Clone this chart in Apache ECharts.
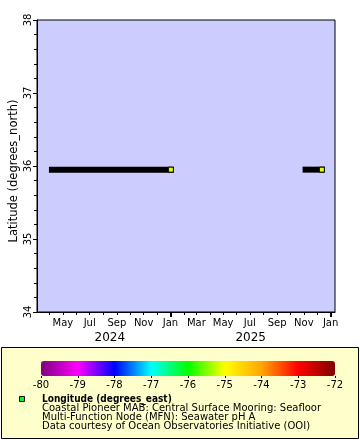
<!DOCTYPE html>
<html><head><meta charset="utf-8">
<script src="https://cdn.jsdelivr.net/npm/echarts@6/dist/echarts.min.js"></script>
<style>html,body{margin:0;padding:0;background:#fff}#c{width:360px;height:440px}</style>
</head><body><div id="c"></div>
<script>
// ---- data ----
const timeRange = ['2024-03-03', '2026-01-11'];
const latRange = [34, 38];
const segmentStarts = [['2024-04-06', 35.95], ['2025-11-05', 35.95]];
const segmentEnds = [['2025-01-02', 35.95, -75.12], ['2025-12-12', 35.95, -75.12]];
const monthTickDates = ['2024-04-01','2024-05-01','2024-06-01','2024-07-01','2024-08-01','2024-09-01','2024-10-01','2024-11-01','2024-12-01','2025-01-01','2025-02-01','2025-03-01','2025-04-01','2025-05-01','2025-06-01','2025-07-01','2025-08-01','2025-09-01','2025-10-01','2025-11-01','2025-12-01','2026-01-01'];
const monthLabelDates = ['2024-05-01','2024-07-01','2024-09-01','2024-11-01','2025-01-01','2025-03-01','2025-05-01','2025-07-01','2025-09-01','2025-11-01','2026-01-01'];
const monthNames = ['Jan','Feb','Mar','Apr','May','Jun','Jul','Aug','Sep','Oct','Nov','Dec'];
const yearTickDates = ['2025-01-01', '2026-01-01'];
const yearLabelDates = ['2024-08-16', '2025-07-03'];
const colorRange = [-80, -72];
const paletteColors = ['#800080','#ff00ff','#0000ff','#00ffff','#00ff00','#ffff00','#ffa500','#ff0000','#800000'];
const legendTitle = 'Longitude (degrees_east)';
const legendLines = ['Coastal Pioneer MAB: Central Surface Mooring: Seafloor','Multi-Function Node (MFN): Seawater pH A','Data courtesy of Ocean Observatories Initiative (OOI)'];
const yAxisTitle = 'Latitude (degrees_north)';

// ---- build ----
const t = s => Date.parse(s + 'T00:00:00Z');
const FONT = 'DejaVu Sans';
const chart = echarts.init(document.getElementById('c'), null, {renderer: 'canvas'});

const series = [];
segmentStarts.forEach((s, i) => {
  series.push({
    type: 'line', xAxisIndex: 0, yAxisIndex: 0, silent: true, symbol: 'none', animation: false, z: 2,
    data: [[t(s[0]), s[1]], [t(segmentEnds[i][0]), segmentEnds[i][1]]],
    lineStyle: {color: '#000', width: 6, cap: 'square'}
  });
});
series.push({
  type: 'scatter', xAxisIndex: 0, yAxisIndex: 0, silent: true, animation: false, z: 20,
  symbol: 'rect', symbolSize: 5,
  data: segmentEnds.map(e => [t(e[0]), e[1], e[2]]),
  itemStyle: {borderColor: '#000', borderWidth: 1, opacity: 1}
});
const scatterIndex = series.length - 1;

const baseX = {
  type: 'value', gridIndex: 0, position: 'bottom',
  min: t(timeRange[0]), max: t(timeRange[1]),
  splitLine: {show: false}
};

const option = {
  animation: false,
  backgroundColor: '#fff',
  textStyle: {fontFamily: FONT},
  grid: [
    {left: 37, top: 20, width: 298, height: 292, show: true, backgroundColor: '#ccccff', borderColor: '#000', borderWidth: 1, containLabel: false, outerBoundsMode: 'none'},
    {left: 41, top: 361, width: 294, height: 15, show: false, containLabel: false, outerBoundsMode: 'none'}
  ],
  xAxis: [
    Object.assign({}, baseX, {
      axisLine: {show: true, lineStyle: {color: '#000', width: 1}},
      axisTick: {show: true, length: 3, lineStyle: {color: '#000', width: 1}, customValues: monthTickDates.map(t)},
      axisLabel: {show: true, fontSize: 10, color: '#000', fontFamily: FONT, margin: 6,
        customValues: monthLabelDates.map(t),
        formatter: v => monthNames[new Date(v).getUTCMonth()]}
    }),
    Object.assign({}, baseX, {
      axisLine: {show: false},
      axisTick: {show: true, length: 5, lineStyle: {color: '#000', width: 2}, customValues: yearTickDates.map(t)},
      axisLabel: {show: false}
    }),
    Object.assign({}, baseX, {
      axisLine: {show: false},
      axisTick: {show: false},
      axisLabel: {show: true, fontSize: 12, color: '#000', fontFamily: FONT, margin: 20,
        customValues: yearLabelDates.map(t),
        formatter: v => String(new Date(v).getUTCFullYear())}
    }),
    {
      type: 'value', gridIndex: 1, position: 'bottom', min: colorRange[0], max: colorRange[1], interval: 1,
      axisLine: {show: false},
      axisTick: {show: true, length: 2, lineStyle: {color: '#000'}},
      axisLabel: {fontSize: 10, color: '#000', fontFamily: FONT, margin: 4},
      splitLine: {show: false}
    }
  ],
  yAxis: [
    {
      type: 'value', gridIndex: 0, min: latRange[0], max: latRange[1], interval: 1,
      name: yAxisTitle, nameLocation: 'middle', nameGap: 17, nameMoveOverlap: false,
      nameTextStyle: {fontSize: 11.5, color: '#000', fontFamily: FONT, padding: [0, 10, 0, 0]},
      axisLine: {show: true, lineStyle: {color: '#000'}},
      axisTick: {show: true, length: 4, lineStyle: {color: '#000'}},
      minorTick: {show: true, splitNumber: 5, length: 3, lineStyle: {color: '#000'}},
      axisLabel: {rotate: 90, fontSize: 10, color: '#000', fontFamily: FONT, margin: 4},
      splitLine: {show: false}
    },
    {type: 'value', gridIndex: 1, show: false, min: 0, max: 1}
  ],
  visualMap: {
    type: 'continuous', min: colorRange[0], max: colorRange[1],
    orient: 'horizontal', left: 41, top: 361, itemWidth: 15, itemHeight: 294,
    padding: 0, calculable: false, text: null, showLabel: false, hoverLink: false,
    seriesIndex: scatterIndex, dimension: 2,
    inRange: {color: paletteColors}
  },
  graphic: [
    {type: 'rect', z: -10, shape: {x: 1.5, y: 347.5, width: 357, height: 91}, style: {fill: '#ffffcc', stroke: '#000', lineWidth: 1}},
    {type: 'rect', z: 10, shape: {x: 19.5, y: 396.5, width: 5, height: 5}, style: {fill: '#00ff00', stroke: '#000', lineWidth: 1}},
    {type: 'text', z: 10, x: 42, y: 399, style: {text: legendTitle, fontFamily: 'DejaVu Sans Condensed, DejaVu Sans', fontWeight: 'bold', fontSize: 10, fill: '#000', verticalAlign: 'middle'}},
    {type: 'text', z: 10, x: 42, y: 404, style: {text: legendLines.join('\n'), fontFamily: FONT, fontSize: 10, lineHeight: 9, fill: '#000', verticalAlign: 'top'}}
  ],
  series: series
};
chart.setOption(option);
</script>
</body></html>
